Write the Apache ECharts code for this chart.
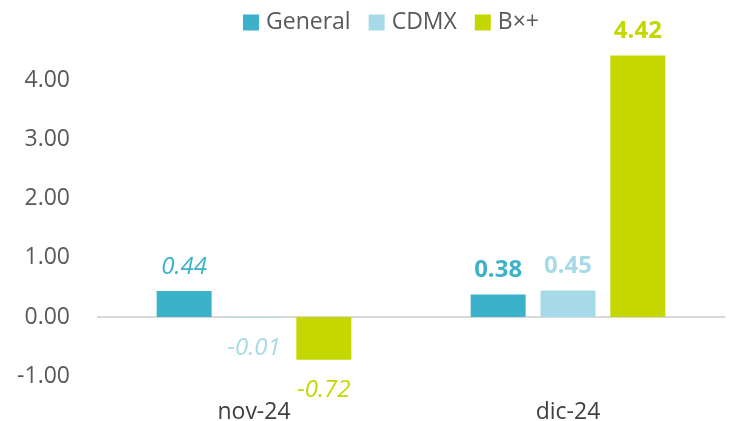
<!DOCTYPE html>
<html><head><meta charset="utf-8">
<script src="https://cdn.jsdelivr.net/npm/echarts@6/dist/echarts.min.js"></script>
<style>html,body{margin:0;padding:0;background:#fff}#c{width:732px;height:421px}</style>
</head><body><div id="c"></div>
<script>
const categories = ['nov-24', 'dic-24'];
const seriesNames = ['General', 'CDMX', 'B×+'];
const general = [0.44, 0.38];
const cdmx = [-0.01, 0.45];
const bxmas = [-0.72, 4.42];
const yTicks = [-1, 0, 1, 2, 3, 4];
const colors = ['#3bb2c9', '#a6dae8', '#c5d700'];
const labelStyles = [{fontStyle: 'italic', fontWeight: 'normal'}, {fontStyle: 'normal', fontWeight: 'bold'}];

const allData = [general, cdmx, bxmas];
const chart = echarts.init(document.getElementById('c'));
const series = allData.map((vals, si) => ({
  name: seriesNames[si],
  type: 'bar',
  barWidth: 55,
  barGap: '27%',
  itemStyle: {color: colors[si]},
  data: vals.map((v, ci) => ({
    value: v,
    label: {
      show: true,
      position: v >= 0 ? 'top' : 'bottom',
      distance: v >= 0 ? 12 : 18,
      formatter: (p) => p.value.toFixed(2),
      color: colors[si],
      fontFamily: 'Open Sans',
      fontSize: 24,
      fontStyle: labelStyles[ci].fontStyle,
      fontWeight: labelStyles[ci].fontWeight
    }
  })),
  markLine: si === 0 ? {
    silent: true, symbol: 'none', z: 0,
    label: {show: false},
    lineStyle: {color: '#d9d9d9', width: 2, type: 'solid'},
    data: [{yAxis: 0}]
  } : undefined
}));

chart.setOption({
  animation: false,
  textStyle: {fontFamily: 'Open Sans'},
  legend: {
    data: seriesNames,
    top: 6, left: 238,
    itemWidth: 16, itemHeight: 16, itemGap: 18,
    icon: 'rect',
    textStyle: {fontSize: 23, color: '#595959', fontFamily: 'Open Sans', padding: [0, 0, 0, 2]}
  },
  grid: {left: 97, right: 7, top: 39, bottom: 27, outerBoundsMode: 'none', containLabel: false},
  xAxis: {
    type: 'category', data: categories,
    axisLine: {show: false}, axisTick: {show: false},
    axisLabel: {fontSize: 23, color: '#404040', margin: 7, fontFamily: 'Open Sans'}
  },
  yAxis: {
    type: 'value', min: -1.3, max: 4.7,
    splitLine: {show: false}, axisLine: {show: false}, axisTick: {show: false},
    axisLabel: {
      customValues: yTicks,
      formatter: (v) => v.toFixed(2),
      fontSize: 23, color: '#595959', margin: 27, fontFamily: 'Open Sans'
    }
  },
  series: series
});
</script></body></html>
